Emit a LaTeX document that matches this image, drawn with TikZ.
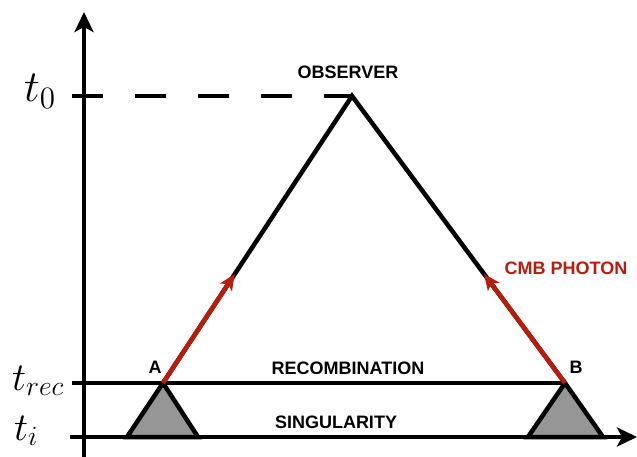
\RequirePackage{fix-cm}
\documentclass[tikz,border=0pt]{standalone}
\usepackage{fontspec}
\setsansfont{Liberation Sans}
\usepackage{tikz}
\usetikzlibrary{arrows.meta, calc}
\definecolor{photonRed}{RGB}{186,28,12}
\definecolor{patchFill}{RGB}{150,150,150}
\newcommand{\timeMark}[2]{\scalebox{#1}{\fontsize{24}{24}\selectfont$#2$}}
\tikzset{
  axis/.style={line width=4.5pt, -{Stealth[length=20pt,width=19pt,inset=5pt]}},
  worldline/.style={line width=4.5pt},
  nowline/.style={line width=4.5pt, dash pattern=on 31pt off 32pt},
  photon/.style={draw=photonRed, line width=4.5pt, -{Stealth[length=16pt,width=14pt,inset=4pt]}},
  patch/.style={draw=black, fill=patchFill, line width=4.5pt},
  tag/.style={font=\sffamily\bfseries\fontsize{18}{18}\selectfont, inner sep=0pt},
  timeLabel/.style={inner sep=0pt, anchor=base west}
}

\begin{document}
\begin{tikzpicture}[x=1pt, y=-1pt]
  \useasboundingbox (0,0) rectangle (637,457);

  % key points
  \coordinate (obs) at (352,96);
  \coordinate (A) at (163,383);
  \coordinate (B) at (565,383);
  \coordinate (origin) at (84,457);
  \coordinate (timeTip) at (84,12);
  \coordinate (singStart) at (70,437);
  \coordinate (spaceTip) at (637,437);
  \coordinate (nowStart) at (72,96);
  \coordinate (recStart) at (72,383);
  \coordinate (photonA) at ($(A)!0.38!(obs)$);
  \coordinate (photonB) at ($(B)!0.38!(obs)$);

  % causal patches
  \draw[patch] (A) -- (127,437) -- (198,437) -- cycle;
  \draw[patch] (B) -- (528,437) -- (603,437) -- cycle;

  % axes and time slices
  \draw[axis] (origin) -- (timeTip);
  \draw[axis] (singStart) -- (spaceTip);
  \draw[worldline] (recStart) -- (B);
  \draw[nowline] (nowStart) -- (obs);

  % past light cone and photons
  \draw[worldline] (A) -- (obs) -- (B);
  \draw[photon] (A) -- (photonA);
  \draw[photon] (B) -- (photonB);

  \node[timeLabel] (t0) at (24,102) {\timeMark{1.85}{t_0}};
  \node[timeLabel] (trec) at (12,390) {\timeMark{1.65}{t_{rec}}};
  \node[timeLabel] (ti) at (14,440) {\timeMark{1.65}{t_i}};

  \node[tag] (observer) at (348,72) {OBSERVER};
  \node[tag] (recomb) at (348,368) {RECOMBINATION};
  \node[tag] (sing) at (336,422) {SINGULARITY};
  \node[tag] (labelA) at (155,367) {A};
  \node[tag] (labelB) at (576,367) {B};
  \node[tag, text=photonRed] (cmb) at (566,268) {CMB PHOTON};
\end{tikzpicture}
\end{document}
